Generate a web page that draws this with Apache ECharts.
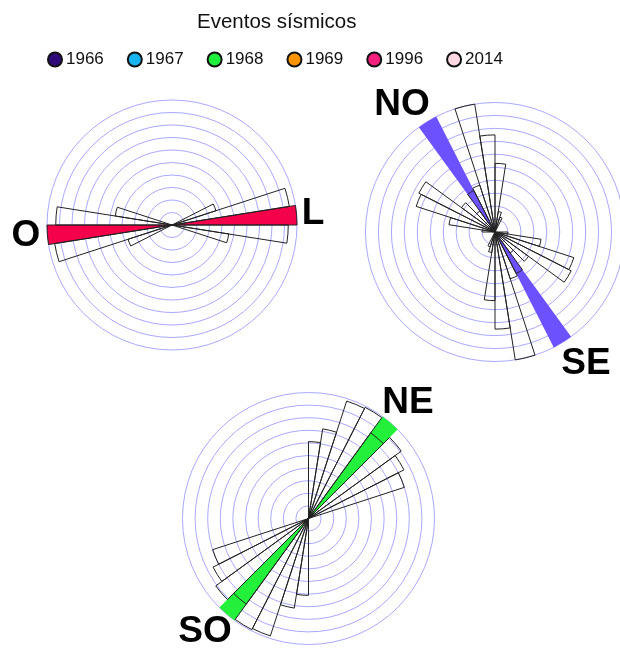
<!DOCTYPE html>
<html>
<head>
<meta charset="utf-8">
<script src="https://cdn.jsdelivr.net/npm/echarts@6/dist/echarts.min.js"></script>
<style>
html,body{margin:0;padding:0;background:#fff;}
#chart{width:620px;height:648px;}
</style>
</head>
<body>
<div id="chart"></div>
<script>
// 40 azimuth bins of 9 degrees (bin start, degrees clockwise from north)
const bins = ['0','9','18','27','36','45','54','63','72','81',
              '90','99','108','117','126','135','144','153','162','171',
              '180','189','198','207','216','225','234','243','252','261',
              '270','279','288','297','306','315','324','333','342','351'];

const years = ['1966','1967','1968','1969','1996','2014'];
const yearColors = ['#2e0a78','#18b4f0','#1ef03c','#ff9400','#f5207e','#ffd8e4'];

const titleText = 'Eventos sísmicos';

// Rose 1 (O - L)
const rose1Counts = [0,0,0,0,0,0,0,3.7,9.5,10,
                     9.3,4.6,0,0,0,0,0,0,0,0,
                     0,0,0,0,0,0,0,3.7,9.5,10,
                     9.3,4.6,0,0,0,0,0,0,0,0];
const rose1Event = [0,0,0,0,0,0,0,0,0,10,
                    0,0,0,0,0,0,0,0,0,0,
                    0,0,0,0,0,0,0,0,0,10,
                    0,0,0,0,0,0,0,0,0,0];

// Rose 2 (NO - SE)
const rose2Counts = [5.3,1.6,1.2,0,0,0,0,0,0,0,
                     1.0,3.6,6.4,6.6,3.2,2.0,3.6,3.8,10,7.5,
                     5.3,1.6,1.2,0,0,0,0,0,0,0,
                     1.0,3.6,6.4,6.6,3.2,2.0,3.6,3.8,10,7.5];
const rose2Event = [0,0,0,0,0,0,0,0,0,0,
                    0,0,0,0,0,0,10,0,0,0,
                    0,0,0,0,0,0,0,0,0,0,
                    0,0,0,0,0,0,10,0,0,0];

// Rose 3 (NE - SO)
const rose3Counts = [6.1,7.2,9.8,9.9,8.4,9.1,8.5,8.0,0,0,
                     0,0,0,0,0,0,0,0,0,0,
                     6.1,7.2,9.8,9.9,8.4,9.1,8.5,8.0,0,0,
                     0,0,0,0,0,0,0,0,0,0];
const rose3Event = [0,0,0,0,10,0,0,0,0,0,
                    0,0,0,0,0,0,0,0,0,0,
                    0,0,0,0,10,0,0,0,0,0,
                    0,0,0,0,0,0,0,0,0,0];

const roseCounts = [rose1Counts, rose2Counts, rose3Counts];
const roseEvents = [rose1Event, rose2Event, rose3Event];
const eventColors = ['#f5004a', '#6c52ff', '#22f03a'];
const directionLabels = [['O','L'], ['NO','SE'], ['NE','SO']];

const polarCenters = [[172, 225], [495, 232], [308.5, 518.5]];
const polarRadii = [125, 129.5, 126];
const labelPos = [[[26, 236], [313, 214]], [[402, 105], [586, 364]], [[408, 403], [205, 632]]];

const chart = echarts.init(document.getElementById('chart'), null, {renderer: 'canvas'});

const toNull = a => a.map(v => (v === 0 ? null : v));

const polar = [], angleAxis = [], radiusAxis = [], series = [];
for (let k = 0; k < 3; k++) {
  polar.push({center: polarCenters[k], radius: [0, polarRadii[k]]});
  angleAxis.push({
    polarIndex: k, type: 'category', data: bins, startAngle: 90, clockwise: true,
    boundaryGap: true,
    axisLine: {show: false}, axisTick: {show: false}, axisLabel: {show: false},
    splitLine: {show: false}
  });
  radiusAxis.push({
    polarIndex: k, type: 'value', min: 0, max: 10, interval: 1,
    axisLine: {show: false}, axisTick: {show: false}, axisLabel: {show: false},
    splitLine: {show: true, lineStyle: {color: '#a9a9ff', width: 1}}
  });
  series.push({
    type: 'bar', coordinateSystem: 'polar', polarIndex: k,
    data: toNull(roseEvents[k]), barGap: '-100%', barCategoryGap: '0%',
    itemStyle: {color: eventColors[k]}, z: 2, silent: true
  });
  series.push({
    type: 'bar', coordinateSystem: 'polar', polarIndex: k,
    data: toNull(roseCounts[k]), barGap: '-100%', barCategoryGap: '0%',
    itemStyle: {color: 'rgba(0,0,0,0)', borderColor: '#222', borderWidth: 1}, z: 3, silent: true
  });
}
years.forEach((y, i) => {
  series.push({
    name: y, type: 'scatter', coordinateSystem: 'polar', polarIndex: 0, data: [],
    itemStyle: {color: yearColors[i], borderColor: '#111', borderWidth: 1.2, opacity: 1}
  });
});

const graphics = [];
for (let k = 0; k < 3; k++) {
  for (let j = 0; j < 2; j++) {
    graphics.push({
      type: 'text', x: labelPos[k][j][0], y: labelPos[k][j][1], z: 10,
      style: {text: directionLabels[k][j], font: 'bold 37px "Liberation Sans", Arial, sans-serif',
              fill: '#000', align: 'center', verticalAlign: 'middle'}
    });
  }
}

chart.setOption({
  animation: false,
  backgroundColor: '#fff',
  title: {
    text: titleText, left: 192, top: 7,
    textStyle: {fontSize: 20.5, fontWeight: 'normal', color: '#111', fontFamily: '"Liberation Sans", Arial, sans-serif'}
  },
  legend: {
    data: years, icon: 'circle', itemWidth: 14, itemHeight: 14, itemGap: 23,
    left: 42, top: 46, selectedMode: false,
    itemStyle: {opacity: 1},
    textStyle: {fontSize: 17, color: '#111', fontFamily: '"Liberation Sans", Arial, sans-serif', padding: [0, 0, 0, -1]}
  },
  polar: polar,
  angleAxis: angleAxis,
  radiusAxis: radiusAxis,
  series: series,
  graphic: graphics
});
</script>
</body>
</html>
